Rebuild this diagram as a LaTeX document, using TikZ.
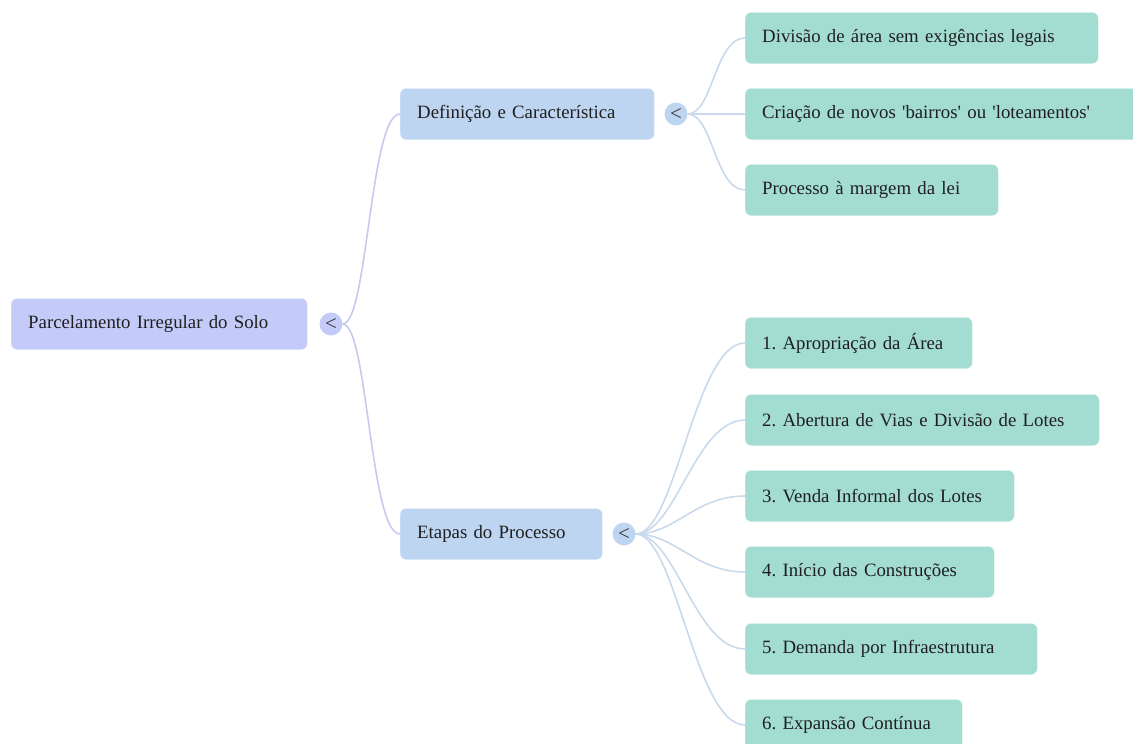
\documentclass[tikz,border=0pt]{standalone}
\usepackage{fontspec}
\setmainfont{Liberation Serif}
\definecolor{rootfill}{RGB}{197,203,249}
\definecolor{midfill}{RGB}{189,213,240}
\definecolor{leaffill}{RGB}{163,221,209}
\definecolor{rootline}{RGB}{200,200,240}
\definecolor{midline}{RGB}{200,218,235}
\frenchspacing

\begin{document}
\begin{tikzpicture}[x=1pt,y=-1pt,
  box/.style={rounded corners=6pt, anchor=west, align=left, inner xsep=17pt,
    inner ysep=0pt, minimum height=51pt, text width=#1, text=black!88,
    font=\fontsize{18.8}{22}\selectfont},
  rootbox/.style={box=#1, fill=rootfill, draw=rootfill!50!white},
  midbox/.style={box=#1, fill=midfill, draw=midfill!50!white},
  leafbox/.style={box=#1, fill=leaffill, draw=leaffill!50!white},
  toggle/.style={circle, minimum size=23pt, inner sep=0pt, fill=#1,
    text=black!80, font=\fontsize{21}{21}\selectfont},
  rootlink/.style={draw=rootline, line width=1.6pt},
  midlink/.style={draw=midline, line width=1.6pt}
]
\useasboundingbox (0,0) rectangle (1133,744);

\node[rootbox=262pt] (root) at (11,324) {Parcelamento Irregular do Solo};
\node[toggle=rootfill] (troot) at (331,324) {<};

\node[midbox=220pt] (def) at (400,114) {Definição e Característica};
\node[toggle=midfill] (tdef) at (676,114) {<};
\node[midbox=168pt] (eta) at (400,534) {Etapas do Processo};
\node[toggle=midfill] (teta) at (624,534) {<};

\node[leafbox=319pt] (d1) at (745,38) {Divisão de área sem exigências legais};
\node[leafbox=361pt] (d2) at (745,114) {Criação de novos \textquotesingle bairros\textquotesingle{} ou \textquotesingle loteamentos\textquotesingle};
\node[leafbox=219pt] (d3) at (745,190) {Processo à margem da lei};

\node[leafbox=193pt] (e1) at (745,343) {1. Apropriação da Área};
\node[leafbox=320pt] (e2) at (745,420) {2. Abertura de Vias e Divisão de Lotes};
\node[leafbox=235pt] (e3) at (745,496) {3. Venda Informal dos Lotes};
\node[leafbox=215pt] (e4) at (745,572) {4. Início das Construções};
\node[leafbox=258pt] (e5) at (745,649) {5. Demanda por Infraestrutura};
\node[leafbox=183pt] (e6) at (745,725) {6. Expansão Contínua};

\foreach \c in {def,eta}
  \draw[rootlink] (troot.east) .. controls +(25,0) and +(-30,0) .. (\c.west);
\foreach \c in {d1,d2,d3}
  \draw[midlink] (tdef.east) .. controls +(25,0) and +(-30,0) .. (\c.west);
\foreach \c in {e1,e2,e3,e4,e5,e6}
  \draw[midlink] (teta.east) .. controls +(40,0) and +(-50,0) .. (\c.west);
\end{tikzpicture}
\end{document}
